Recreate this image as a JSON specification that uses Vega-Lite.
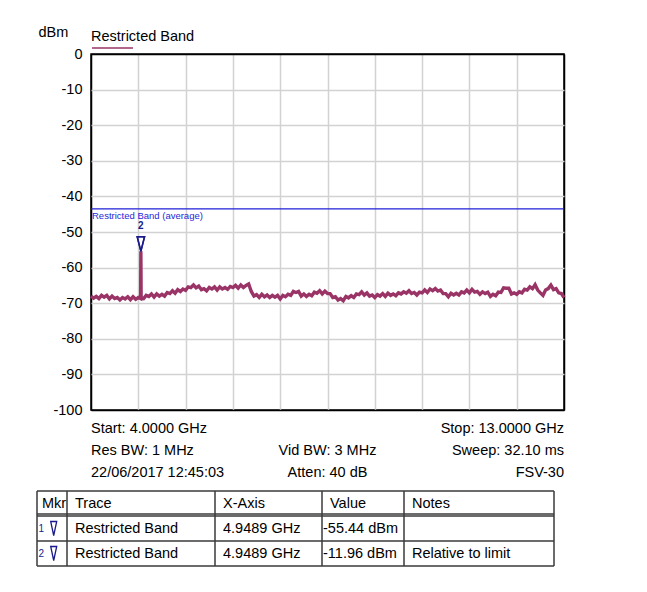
{
  "$schema": "https://vega.github.io/schema/vega-lite/v6.json",
  "padding": {"left": 36, "top": 23, "right": 10, "bottom": 10},
  "spacing": 0,
  "config": {
    "font": "Liberation Sans",
    "view": {"stroke": "black", "strokeWidth": 1.5},
    "axis": {"labelOverlap": false, "labelSeparation": 0},
    "locale": {"number": {"decimal": ".", "thousands": ",", "grouping": [3], "currency": ["$", ""], "minus": "-"}}
  },
  "datasets": {
    "trace": [
      {"f":4.00,"p":-68.0},{"f":4.05,"p":-68.6},{"f":4.10,"p":-68.1},{"f":4.15,"p":-68.7},{"f":4.20,"p":-67.8},{"f":4.25,"p":-68.3},{"f":4.30,"p":-67.8},{"f":4.35,"p":-68.8},{"f":4.40,"p":-68.0},{"f":4.45,"p":-68.7},
      {"f":4.50,"p":-68.4},{"f":4.55,"p":-69.1},{"f":4.60,"p":-68.4},{"f":4.65,"p":-68.8},{"f":4.70,"p":-68.2},{"f":4.75,"p":-69.0},{"f":4.80,"p":-68.2},{"f":4.85,"p":-68.9},{"f":4.90,"p":-68.4},{"f":4.944,"p":-68.7},
      {"f":4.9489,"p":-55.44},{"f":4.954,"p":-68.6},{"f":5.00,"p":-68.7},{"f":5.05,"p":-67.8},{"f":5.10,"p":-68.1},{"f":5.15,"p":-67.4},{"f":5.20,"p":-68.3},{"f":5.25,"p":-67.4},{"f":5.30,"p":-68.0},{"f":5.35,"p":-67.5},
      {"f":5.40,"p":-68.0},{"f":5.45,"p":-67.0},{"f":5.50,"p":-67.3},{"f":5.55,"p":-66.5},{"f":5.60,"p":-67.2},{"f":5.65,"p":-66.2},{"f":5.70,"p":-66.7},{"f":5.75,"p":-66.0},{"f":5.80,"p":-66.4},{"f":5.85,"p":-65.4},
      {"f":5.90,"p":-65.6},{"f":5.95,"p":-64.9},{"f":6.00,"p":-65.7},{"f":6.05,"p":-65.2},{"f":6.10,"p":-66.2},{"f":6.15,"p":-65.9},{"f":6.20,"p":-66.5},{"f":6.25,"p":-65.6},{"f":6.30,"p":-66.0},{"f":6.35,"p":-65.4},
      {"f":6.40,"p":-66.3},{"f":6.45,"p":-65.4},{"f":6.50,"p":-66.0},{"f":6.55,"p":-65.6},{"f":6.60,"p":-66.1},{"f":6.65,"p":-65.3},{"f":6.70,"p":-65.6},{"f":6.75,"p":-65.0},{"f":6.80,"p":-65.8},{"f":6.85,"p":-64.9},
      {"f":6.90,"p":-65.6},{"f":6.95,"p":-65.0},{"f":7.00,"p":-64.6},{"f":7.05,"p":-66.7},{"f":7.10,"p":-68.0},{"f":7.15,"p":-67.6},{"f":7.20,"p":-68.4},{"f":7.25,"p":-67.5},{"f":7.30,"p":-68.2},{"f":7.35,"p":-67.7},
      {"f":7.40,"p":-68.4},{"f":7.45,"p":-67.8},{"f":7.50,"p":-68.3},{"f":7.55,"p":-67.8},{"f":7.60,"p":-68.8},{"f":7.65,"p":-67.8},{"f":7.70,"p":-68.2},{"f":7.75,"p":-67.5},{"f":7.80,"p":-67.8},{"f":7.85,"p":-66.7},
      {"f":7.90,"p":-67.0},{"f":7.95,"p":-66.7},{"f":8.00,"p":-68.0},{"f":8.05,"p":-67.4},{"f":8.10,"p":-68.1},{"f":8.15,"p":-67.5},{"f":8.20,"p":-67.9},{"f":8.25,"p":-66.9},{"f":8.30,"p":-67.2},{"f":8.35,"p":-66.5},
      {"f":8.40,"p":-67.4},{"f":8.45,"p":-66.6},{"f":8.50,"p":-67.3},{"f":8.55,"p":-67.3},{"f":8.60,"p":-68.4},{"f":8.65,"p":-68.2},{"f":8.70,"p":-69.1},{"f":8.75,"p":-68.7},{"f":8.80,"p":-69.3},{"f":8.85,"p":-68.1},
      {"f":8.90,"p":-68.5},{"f":8.95,"p":-67.9},{"f":9.00,"p":-68.4},{"f":9.05,"p":-67.4},{"f":9.10,"p":-67.6},{"f":9.15,"p":-66.8},{"f":9.20,"p":-67.7},{"f":9.25,"p":-67.1},{"f":9.30,"p":-68.0},{"f":9.35,"p":-67.7},
      {"f":9.40,"p":-68.4},{"f":9.45,"p":-67.6},{"f":9.50,"p":-68.0},{"f":9.55,"p":-67.3},{"f":9.60,"p":-68.1},{"f":9.65,"p":-67.2},{"f":9.70,"p":-67.8},{"f":9.75,"p":-67.4},{"f":9.80,"p":-67.9},{"f":9.85,"p":-67.1},
      {"f":9.90,"p":-67.4},{"f":9.95,"p":-66.8},{"f":10.00,"p":-67.2},{"f":10.05,"p":-66.5},{"f":10.10,"p":-67.3},{"f":10.15,"p":-67.0},{"f":10.20,"p":-67.7},{"f":10.25,"p":-66.9},{"f":10.30,"p":-67.1},{"f":10.35,"p":-66.3},
      {"f":10.40,"p":-67.0},{"f":10.45,"p":-66.0},{"f":10.50,"p":-66.5},{"f":10.55,"p":-65.9},{"f":10.60,"p":-66.6},{"f":10.65,"p":-66.3},{"f":10.70,"p":-67.3},{"f":10.75,"p":-67.3},{"f":10.80,"p":-68.2},{"f":10.85,"p":-67.2},
      {"f":10.90,"p":-67.7},{"f":10.95,"p":-67.2},{"f":11.00,"p":-67.7},{"f":11.05,"p":-66.8},{"f":11.10,"p":-67.1},{"f":11.15,"p":-66.3},{"f":11.20,"p":-67.1},{"f":11.25,"p":-66.1},{"f":11.30,"p":-66.9},{"f":11.35,"p":-66.7},
      {"f":11.40,"p":-67.5},{"f":11.45,"p":-66.8},{"f":11.50,"p":-67.3},{"f":11.55,"p":-66.9},{"f":11.60,"p":-68.1},{"f":11.65,"p":-67.5},{"f":11.70,"p":-67.9},{"f":11.75,"p":-66.9},{"f":11.80,"p":-67.0},{"f":11.85,"p":-65.7},
      {"f":11.90,"p":-65.8},{"f":11.95,"p":-65.8},{"f":12.00,"p":-67.4},{"f":12.05,"p":-67.1},{"f":12.10,"p":-67.5},{"f":12.15,"p":-66.8},{"f":12.20,"p":-67.1},{"f":12.25,"p":-66.1},{"f":12.30,"p":-66.3},{"f":12.35,"p":-65.4},
      {"f":12.40,"p":-65.9},{"f":12.45,"p":-64.8},{"f":12.50,"p":-66.3},{"f":12.55,"p":-67.1},{"f":12.60,"p":-67.8},{"f":12.65,"p":-66.3},{"f":12.70,"p":-65.9},{"f":12.75,"p":-64.9},{"f":12.80,"p":-66.2},{"f":12.85,"p":-65.9},
      {"f":12.90,"p":-67.1},{"f":12.95,"p":-67.3},{"f":13.00,"p":-68.4}
    ],
    "limit": [{"name": "Restricted Band (average)", "limit": -43.48}],
    "markers": [{"mkr": "1", "f": 4.9489, "p": -55.44}, {"mkr": "2", "f": 4.9489, "p": -55.44}],
    "info": [
      {"line": 1, "side": "left", "text": "Start: 4.0000 GHz"},
      {"line": 1, "side": "right", "text": "Stop: 13.0000 GHz"},
      {"line": 2, "side": "left", "text": "Res BW: 1 MHz"},
      {"line": 2, "side": "center", "text": "Vid BW: 3 MHz"},
      {"line": 2, "side": "right", "text": "Sweep: 32.10 ms"},
      {"line": 3, "side": "left", "text": "22/06/2017 12:45:03"},
      {"line": 3, "side": "center", "text": "Atten: 40 dB"},
      {"line": 3, "side": "right", "text": "FSV-30"}
    ],
    "cells": [
      {"r": 0, "c": 0, "t": "Mkr"}, {"r": 0, "c": 1, "t": "Trace"}, {"r": 0, "c": 2, "t": "X-Axis"}, {"r": 0, "c": 3, "t": "Value"}, {"r": 0, "c": 4, "t": "Notes"},
      {"r": 1, "c": 0, "t": "1"}, {"r": 1, "c": 1, "t": "Restricted Band"}, {"r": 1, "c": 2, "t": "4.9489 GHz"}, {"r": 1, "c": 3, "t": "-55.44 dBm"}, {"r": 1, "c": 4, "t": ""},
      {"r": 2, "c": 0, "t": "2"}, {"r": 2, "c": 1, "t": "Restricted Band"}, {"r": 2, "c": 2, "t": "4.9489 GHz"}, {"r": 2, "c": 3, "t": "-11.96 dBm"}, {"r": 2, "c": 4, "t": "Relative to limit"}
    ],
    "hlines": [{"b": 0}, {"b": 1}, {"b": 2}, {"b": 3}],
    "vlines": [{"c": 0}, {"c": 1}, {"c": 2}, {"c": 3}, {"c": 4}, {"c": 5}]
  },
  "vconcat": [
    {
      "width": 473,
      "height": 356,
      "layer": [
        {
          "data": {"name": "trace"},
          "mark": {"type": "line", "strokeWidth": 3.4},
          "encoding": {
            "x": {
              "field": "f", "type": "quantitative",
              "scale": {"domain": [4, 13], "nice": false, "zero": false},
              "axis": {
                "values": [4, 4.9, 5.8, 6.7, 7.6, 8.5, 9.4, 10.3, 11.2, 12.1, 13],
                "tickCount": 20,
                "grid": true, "gridWidth": 1.5,
                "gridColor": {"condition": {"test": "datum.value == 4 || datum.value == 13", "value": "black"}, "value": "#d2d2d2"},
                "labels": false, "ticks": false, "domain": false, "title": null
              }
            },
            "y": {
              "field": "p", "type": "quantitative",
              "scale": {"domain": [-100, 0], "nice": false, "zero": false},
              "axis": {
                "values": [-100, -90, -80, -70, -60, -50, -40, -30, -20, -10, 0],
                "tickCount": 20,
                "format": "d",
                "labelOverlap": false, "labelBound": false, "labelFlush": false,
                "grid": true, "gridWidth": 1.5,
                "gridColor": {"condition": {"test": "datum.value == 0 || datum.value == -100", "value": "black"}, "value": "#d2d2d2"},
                "ticks": false, "domain": false,
                "labelPadding": 9, "labelFontSize": 14.5, "labelColor": "black",
                "title": "dBm", "titleAngle": 0, "titleX": -53, "titleY": -22,
                "titleAlign": "left", "titleBaseline": "middle",
                "titleFontSize": 14.5, "titleFontWeight": "normal", "titleColor": "black"
              }
            },
            "color": {
              "datum": "Restricted Band",
              "scale": {"range": ["#9a3366"]},
              "legend": {
                "orient": "none", "legendX": 0, "legendY": -24,
                "title": "Restricted Band", "titleFontSize": 14.5, "titleFontWeight": "normal", "titleColor": "black",
                "titlePadding": -18, "padding": 0,
                "symbolType": "stroke", "symbolSize": 1681, "symbolStrokeWidth": 1.5,
                "labelExpr": "''"
              }
            }
          }
        },
        {
          "data": {"name": "limit"},
          "mark": {"type": "rule", "color": "#1f1fd8", "strokeWidth": 1.2},
          "encoding": {"y": {"field": "limit", "type": "quantitative"}}
        },
        {
          "data": {"name": "limit"},
          "mark": {"type": "text", "align": "left", "baseline": "middle", "dx": 1, "dy": 7, "fontSize": 9.5, "color": "#1f1fd8"},
          "encoding": {
            "x": {"datum": 4, "type": "quantitative"},
            "y": {"field": "limit", "type": "quantitative"},
            "text": {"field": "name"}
          }
        },
        {
          "data": {"name": "markers"},
          "mark": {"type": "point", "shape": "M-0.5,-2L0.5,-2L0,0Z", "size": 216, "filled": false, "stroke": "#1a1a8a", "strokeWidth": 1.5, "opacity": 1},
          "encoding": {
            "x": {"field": "f", "type": "quantitative"},
            "y": {"field": "p", "type": "quantitative"}
          }
        },
        {
          "data": {"name": "markers"},
          "transform": [{"filter": "datum.mkr == '2'"}],
          "mark": {"type": "text", "baseline": "middle", "dy": -25.5, "fontSize": 10, "fontWeight": "bold", "color": "#1a1a8a"},
          "encoding": {
            "x": {"field": "f", "type": "quantitative"},
            "y": {"field": "p", "type": "quantitative"},
            "text": {"field": "mkr"}
          }
        }
      ]
    },
    {
      "width": 473,
      "height": 71.5,
      "view": {"stroke": null},
      "data": {"name": "info"},
      "encoding": {
        "x": {"field": "side", "type": "nominal", "scale": {"type": "point", "domain": ["left", "center", "right"], "padding": 0}, "axis": null},
        "y": {"field": "line", "type": "ordinal", "scale": {"type": "band", "paddingInner": 0, "paddingOuter": 0.125, "align": 0}, "axis": null},
        "text": {"field": "text"}
      },
      "layer": [
        {"transform": [{"filter": "datum.side == 'left'"}], "mark": {"type": "text", "align": "left", "baseline": "middle", "fontSize": 14.5, "color": "black"}},
        {"transform": [{"filter": "datum.side == 'center'"}], "mark": {"type": "text", "align": "center", "baseline": "middle", "fontSize": 14.5, "color": "black"}},
        {"transform": [{"filter": "datum.side == 'right'"}], "mark": {"type": "text", "align": "right", "baseline": "middle", "fontSize": 14.5, "color": "black"}}
      ]
    },
    {
      "width": 473,
      "height": 75,
      "view": {"stroke": null},
      "layer": [
        {
          "data": {"name": "hlines"},
          "mark": {"type": "rule", "color": "#3a3a3a", "strokeWidth": 1.5},
          "encoding": {
            "y": {"field": "b", "type": "quantitative", "scale": {"domain": [0, 3], "reverse": true, "nice": false, "zero": false}, "axis": null},
            "x": {"datum": 0, "type": "quantitative", "scale": {"domain": [0, 1, 2, 3, 4, 5], "range": [-54, -24, 124, 231, 313, 463], "nice": false, "zero": false}, "axis": null},
            "x2": {"datum": 5}
          }
        },
        {
          "data": {"name": "hlines"},
          "transform": [{"filter": "datum.b == 1"}],
          "mark": {"type": "rule", "color": "#3a3a3a", "strokeWidth": 1.5, "yOffset": -2},
          "encoding": {
            "y": {"field": "b", "type": "quantitative"},
            "x": {"datum": 0, "type": "quantitative"},
            "x2": {"datum": 5}
          }
        },
        {
          "data": {"name": "vlines"},
          "mark": {"type": "rule", "color": "#3a3a3a", "strokeWidth": 1.5},
          "encoding": {
            "x": {"field": "c", "type": "quantitative"},
            "y": {"datum": 0, "type": "quantitative"},
            "y2": {"datum": 3}
          }
        },
        {
          "data": {"name": "cells"},
          "transform": [{"filter": "datum.c > 0 && !(datum.r > 0 && datum.c == 3)"}],
          "mark": {"type": "text", "align": "left", "baseline": "middle", "dx": 8, "dy": 12.5, "fontSize": 14.5, "color": "black"},
          "encoding": {
            "x": {"field": "c", "type": "quantitative"},
            "y": {"field": "r", "type": "quantitative"},
            "text": {"field": "t"}
          }
        },
        {
          "data": {"name": "cells"},
          "transform": [{"filter": "datum.r > 0 && datum.c == 3"}],
          "mark": {"type": "text", "align": "left", "baseline": "middle", "dx": 1, "dy": 12.5, "fontSize": 14.5, "color": "black"},
          "encoding": {
            "x": {"field": "c", "type": "quantitative"},
            "y": {"field": "r", "type": "quantitative"},
            "text": {"field": "t"}
          }
        },
        {
          "data": {"name": "cells"},
          "transform": [{"filter": "datum.r == 0 && datum.c == 0"}],
          "mark": {"type": "text", "align": "left", "baseline": "middle", "dx": 5, "dy": 12.5, "fontSize": 14.5, "color": "black"},
          "encoding": {
            "x": {"field": "c", "type": "quantitative"},
            "y": {"field": "r", "type": "quantitative"},
            "text": {"field": "t"}
          }
        },
        {
          "data": {"name": "cells"},
          "transform": [{"filter": "datum.r > 0 && datum.c == 0"}],
          "mark": {"type": "text", "align": "left", "baseline": "middle", "dx": 1.5, "dy": 13, "fontSize": 10, "color": "#1a1a8a"},
          "encoding": {
            "x": {"field": "c", "type": "quantitative"},
            "y": {"field": "r", "type": "quantitative"},
            "text": {"field": "t"}
          }
        },
        {
          "data": {"name": "cells"},
          "transform": [{"filter": "datum.r > 0 && datum.c == 0"}],
          "mark": {"type": "point", "shape": "M-0.43,-1L0.43,-1L0,1Z", "size": 196, "filled": false, "stroke": "#1a1a8a", "strokeWidth": 1.3, "opacity": 1, "xOffset": 16.7, "yOffset": 12.5},
          "encoding": {
            "x": {"field": "c", "type": "quantitative"},
            "y": {"field": "r", "type": "quantitative"}
          }
        }
      ]
    }
  ]
}
